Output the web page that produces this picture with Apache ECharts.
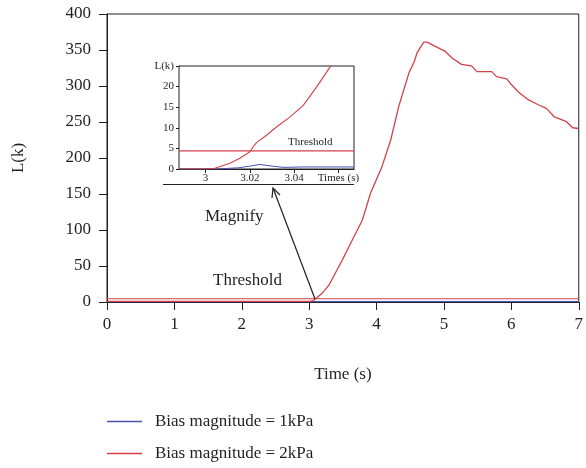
<!DOCTYPE html>
<html>
<head>
<meta charset="utf-8">
<script src="https://cdn.jsdelivr.net/npm/echarts@6/dist/echarts.min.js"></script>
<style>
  html, body { margin: 0; padding: 0; background: #fff; }
  #chart { width: 586px; height: 468px; }
</style>
</head>
<body>
<div id="chart"></div>
<script>
// main plot data (time in s, L in k)
var redTime = [0, 1, 2, 3, 3.05, 3.1, 3.2, 3.29, 3.49, 3.66, 3.79, 3.91, 4.08, 4.21, 4.33, 4.48, 4.56, 4.6, 4.7, 4.75, 4.87, 5.02, 5.12, 5.26, 5.41, 5.49, 5.71, 5.78, 5.93, 6.0, 6.1, 6.25, 6.4, 6.52, 6.64, 6.81, 6.91, 7.0];
var redL = [1, 1, 1, 1, 1.5, 5, 13, 23, 58, 90, 114, 151, 188, 225, 272, 318, 334, 346, 361, 361, 355, 348, 339, 330, 328, 320, 320, 313, 310, 302, 292, 281, 274, 269, 257, 251, 242, 241];
var blueTime = [0, 3, 3.025, 3.04, 7];
var blueL = [0.2, 0.2, 1, 0.4, 0.5];
var thresholdTime = [0, 7];
var thresholdL = [4.5, 4.5];

// inset (magnified) data
var insetRedTime = [2.988, 3.0, 3.0042, 3.011, 3.0155, 3.02, 3.0215, 3.023, 3.0275, 3.032, 3.038, 3.044, 3.05, 3.056, 3.0575];
var insetRedL = [0, 0, 0.17, 1.4, 2.6, 4.2, 5.4, 6.4, 8.2, 10.2, 12.6, 15.4, 19.8, 24.6, 26];
var insetBlueTime = [2.988, 3.005, 3.015, 3.02, 3.0245, 3.03, 3.035, 3.045, 3.067];
var insetBlueL = [0, 0, 0.3, 0.7, 1.1, 0.7, 0.4, 0.5, 0.5];
var insetThresholdTime = [2.988, 3.067];
var insetThresholdL = [4.4, 4.4];
var insetTicks = [3, 3.02, 3.04, 3.06];

var legendNames = ['Bias magnitude = 1kPa', 'Bias magnitude = 2kPa'];

var blue = '#4a52ad';
var red = '#d4404a';
var ink = '#231f20';
var serif = 'Liberation Serif';

function pairs(xs, ys) {
  return xs.map(function (x, i) { return [x, ys[i]]; });
}

var chart = echarts.init(document.getElementById('chart'));

chart.setOption({
  animation: false,
  textStyle: { fontFamily: serif, color: ink },
  grid: [
    { left: 107, right: 5, top: 14, bottom: 166, show: true, borderColor: ink, borderWidth: 1 },
    { left: 179, right: 232, top: 66, bottom: 299, show: true, borderColor: ink, borderWidth: 1, backgroundColor: '#fff', z: 5 }
  ],
  legend: {
    orient: 'vertical',
    left: 107,
    top: 413,
    width: 300,
    height: 55,
    padding: 0,
    icon: 'rect',
    itemWidth: 35,
    itemHeight: 1.5,
    itemGap: 15,
    data: legendNames,
    textStyle: { fontFamily: serif, fontSize: 17, color: ink, padding: [0, 0, 0, 8] }
  },
  xAxis: [
    {
      gridIndex: 0, type: 'value', min: 0, max: 7, interval: 1,
      name: 'Time (s)', nameLocation: 'middle', nameGap: 64,
      nameTextStyle: { fontFamily: serif, fontSize: 17, color: ink },
      axisLine: { lineStyle: { color: ink } },
      axisTick: { inside: false, length: 8, lineStyle: { color: ink } },
      axisLabel: { fontFamily: serif, fontSize: 17, color: ink, margin: 14 },
      splitLine: { show: false }
    },
    {
      gridIndex: 1, type: 'value', min: 2.988, max: 3.067,
      axisLine: { lineStyle: { color: ink } },
      axisTick: { length: 4, customValues: insetTicks, lineStyle: { color: ink } },
      axisLabel: {
        fontFamily: serif, fontSize: 11, color: ink, margin: 4,
        customValues: insetTicks,
        formatter: function (v) {
          if (Math.abs(v - 3.06) < 1e-6) return 'Times (s)';
          return String(+v.toFixed(2));
        }
      },
      splitLine: { show: false }
    }
  ],
  yAxis: [
    {
      gridIndex: 0, type: 'value', min: 0, max: 400, interval: 50,
      name: 'L(k)', nameLocation: 'middle', nameGap: 80, nameRotate: 90,
      nameTextStyle: { fontFamily: serif, fontSize: 17, color: ink },
      axisLine: { show: true, lineStyle: { color: ink } },
      axisTick: { show: true, length: 8, lineStyle: { color: ink } },
      axisLabel: { fontFamily: serif, fontSize: 17, color: ink, margin: 16 },
      splitLine: { show: false }
    },
    {
      gridIndex: 1, type: 'value', min: 0, max: 25, interval: 5,
      axisLine: { show: true, lineStyle: { color: ink } },
      axisTick: { show: true, length: 3, lineStyle: { color: ink } },
      axisLabel: {
        fontFamily: serif, fontSize: 11, color: ink, margin: 5,
        formatter: function (v) { return v === 25 ? 'L(k)' : v; }
      },
      splitLine: { show: false }
    }
  ],
  series: [
    {
      name: legendNames[0], type: 'line', xAxisIndex: 0, yAxisIndex: 0,
      symbol: 'none', lineStyle: { color: blue, width: 1.2 }, itemStyle: { color: blue },
      data: pairs(blueTime, blueL)
    },
    {
      name: legendNames[1], type: 'line', xAxisIndex: 0, yAxisIndex: 0,
      symbol: 'none', lineStyle: { color: red, width: 1.3 }, itemStyle: { color: red },
      data: pairs(redTime, redL)
    },
    {
      name: 'threshold', type: 'line', xAxisIndex: 0, yAxisIndex: 0,
      symbol: 'none', lineStyle: { color: red, width: 1.2 },
      data: pairs(thresholdTime, thresholdL)
    },
    {
      name: 'inset blue', type: 'line', xAxisIndex: 1, yAxisIndex: 1, z: 6,
      symbol: 'none', lineStyle: { color: blue, width: 1 },
      data: pairs(insetBlueTime, insetBlueL)
    },
    {
      name: 'inset red', type: 'line', xAxisIndex: 1, yAxisIndex: 1, z: 6,
      symbol: 'none', lineStyle: { color: red, width: 1.1 },
      data: pairs(insetRedTime, insetRedL)
    },
    {
      name: 'inset threshold', type: 'line', xAxisIndex: 1, yAxisIndex: 1, z: 6,
      symbol: 'none', lineStyle: { color: red, width: 1.2 },
      data: pairs(insetThresholdTime, insetThresholdL)
    }
  ],
  graphic: [
    // line under the inset's axis labels
    { type: 'line', z: 10, shape: { x1: 163, y1: 184.5, x2: 354, y2: 184.5 }, style: { stroke: ink, lineWidth: 1 } },
    { type: 'text', z: 10, left: 288, top: 137, style: { text: 'Threshold', font: '11px "Liberation Serif"', fill: ink } },
    { type: 'text', z: 10, left: 213, top: 272, style: { text: 'Threshold', font: '17px "Liberation Serif"', fill: ink } },
    { type: 'text', z: 10, left: 205, top: 208, style: { text: 'Magnify', font: '17px "Liberation Serif"', fill: ink } },
    // arrow pointing to the inset
    { type: 'line', z: 10, shape: { x1: 315, y1: 299, x2: 273, y2: 188 }, style: { stroke: ink, lineWidth: 1.2 } },
    { type: 'polyline', z: 10, shape: { points: [[280, 195], [273, 188], [272, 198]] }, style: { stroke: ink, fill: null, lineWidth: 1.2 } }
  ]
});
</script>
</body>
</html>
